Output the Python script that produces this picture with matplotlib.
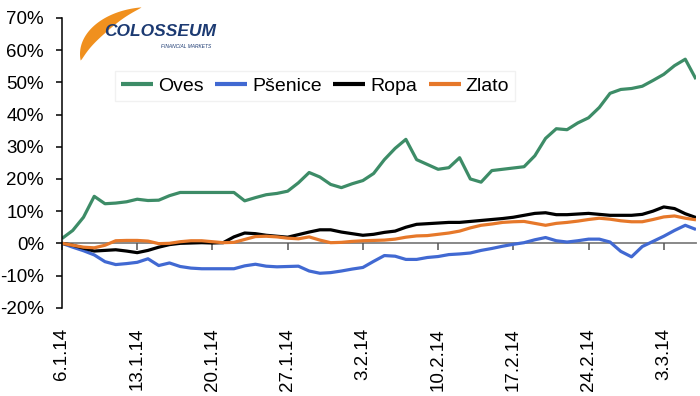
import numpy as np
import matplotlib
matplotlib.use("Agg")
import matplotlib.pyplot as plt
from matplotlib.patches import Polygon

plt.rcParams['font.family'] = ['Liberation Sans', 'DejaVu Sans']

# ---- data (percent change since 6.1.14, one value per calendar day) ----
days = np.arange(60)
tick_days = [0, 7, 14, 21, 28, 35, 42, 49, 56]
tick_labels = ['6.1.14', '13.1.14', '20.1.14', '27.1.14', '3.2.14',
               '10.2.14', '17.2.14', '24.2.14', '3.3.14']

oves = [1.5, 4.0, 8.1, 14.6, 12.3, 12.5, 12.9, 13.7, 13.3, 13.4,
        14.8, 15.8, 15.8, 15.8, 15.8, 15.8, 15.8, 13.2, 14.2, 15.1,
        15.5, 16.2, 18.8, 22.0, 20.6, 18.3, 17.3, 18.5, 19.5, 21.7,
        26.0, 29.5, 32.3, 26.0, 24.5, 23.0, 23.5, 26.6, 20.0, 19.0,
        22.6, 23.0, 23.4, 23.8, 27.2, 32.6, 35.6, 35.3, 37.4, 39.0,
        42.2, 46.6, 47.8, 48.1, 48.8, 50.6, 52.5, 55.2, 57.2, 51.0]

psenice = [0.0, -1.2, -2.3, -3.6, -5.7, -6.6, -6.3, -5.9, -4.8, -6.9,
           -6.1, -7.2, -7.7, -7.9, -7.9, -7.9, -7.9, -7.0, -6.5, -7.1,
           -7.3, -7.2, -7.1, -8.6, -9.3, -9.1, -8.6, -8.0, -7.5, -5.6,
           -3.8, -4.0, -5.0, -5.0, -4.4, -4.1, -3.5, -3.3, -3.0, -2.2,
           -1.6, -0.9, -0.3, 0.2, 1.1, 1.8, 0.8, 0.4, 0.8, 1.3,
           1.3, 0.4, -2.5, -4.2, -1.0, 0.6, 2.2, 4.0, 5.6, 4.3]

ropa = [0.0, -0.6, -1.5, -2.4, -2.2, -2.0, -2.4, -2.9, -2.2, -1.2,
        -0.4, 0.0, 0.1, 0.2, 0.1, 0.2, 2.0, 3.2, 3.0, 2.5,
        2.2, 1.9, 2.7, 3.5, 4.2, 4.2, 3.5, 3.0, 2.5, 2.8,
        3.4, 3.8, 5.0, 5.9, 6.1, 6.3, 6.5, 6.5, 6.8, 7.1,
        7.4, 7.7, 8.1, 8.7, 9.3, 9.5, 8.9, 8.9, 9.1, 9.3,
        9.0, 8.7, 8.7, 8.7, 9.0, 10.0, 11.3, 10.8, 9.2, 8.0]

zlato = [0.0, -0.6, -1.2, -1.4, -0.6, 0.8, 0.9, 0.9, 0.7, -0.1,
         0.0, 0.5, 0.8, 0.8, 0.5, 0.2, 0.3, 1.2, 2.1, 2.2,
         2.0, 1.6, 1.4, 2.0, 1.0, 0.2, 0.3, 0.6, 0.8, 0.9,
         1.0, 1.3, 1.9, 2.3, 2.4, 2.8, 3.2, 3.8, 4.8, 5.6,
         6.0, 6.5, 6.7, 6.8, 6.2, 5.6, 6.2, 6.5, 6.9, 7.4,
         7.8, 7.5, 7.0, 6.7, 6.7, 7.4, 8.2, 8.5, 7.8, 7.3]

series_names = ['Oves', 'Pšenice', 'Ropa', 'Zlato']
series_values = [oves, psenice, ropa, zlato]
series_colors = ['#3d8c67', '#4169d2', '#000000', '#e6782a']

# ---- figure ----
W, H = 700, 396
fig = plt.figure(figsize=(W / 100, H / 100), dpi=100)
fig.patch.set_facecolor('white')
ax = fig.add_axes([62 / W, 1 - 307.7 / H, (696 - 62) / W, (307.7 - 18) / H])

lines = []
for name, vals, col in zip(series_names, series_values, series_colors):
    ln, = ax.plot(days, vals, color=col, lw=2.3, label=name,
                  solid_joinstyle='round', solid_capstyle='butt')
    lines.append(ln)

ax.set_xlim(0, 59)
ax.set_ylim(-20, 70)
ax.set_yticks(np.arange(-20, 71, 10))
ax.set_yticklabels([f'{v}%' for v in range(-20, 71, 10)])

ax.spines['top'].set_visible(False)
ax.spines['right'].set_visible(False)
ax.spines['left'].set_color('black')
ax.spines['left'].set_linewidth(1.1)
ax.spines['bottom'].set_position(('data', 0))
ax.spines['bottom'].set_color('#7f7f7f')
ax.spines['bottom'].set_linewidth(1.3)
ax.spines['bottom'].set_zorder(0.5)

ax.set_xticks(tick_days)
ax.set_xticklabels(tick_labels, rotation=90, va='top', ha='center')
ax.tick_params(axis='x', direction='out', length=5, width=1.1, color='#555555',
               pad=56, labelsize=13.5)
ax.tick_params(axis='y', direction='out', length=4, width=1.1, color='black',
               pad=9, labelsize=13.5)

leg = ax.legend(handles=lines, loc='center', bbox_to_anchor=(315 / W, 1 - 86 / H),
                bbox_transform=fig.transFigure, ncol=4, frameon=True,
                fancybox=False, edgecolor='#eeeeee', fontsize=14,
                handlelength=1.65, handletextpad=0.25, columnspacing=0.6,
                borderpad=0.3)
leg.get_frame().set_linewidth(1.0)
for lh in leg.get_lines():
    lh.set_linewidth(3)

# ---- logo (decorative swoosh + text) ----
s = np.linspace(0, 1, 80)
theta = np.deg2rad(97 + s * (188 - 97))
cx, cy, rx, ry = 150, 54, 70, 47
ox = cx + rx * np.cos(theta)
oy = cy - ry * np.sin(theta)
k = 0.22 * np.sin(np.pi * s) ** 0.8
ix = cx + (ox - cx) * (1 - k)
iy = cy + (oy - cy) * (1 - k)
pts = np.vstack([np.c_[ox, oy], np.c_[ix, iy][::-1]])
pts_fig = np.c_[pts[:, 0] / W, 1 - pts[:, 1] / H]
fig.add_artist(Polygon(pts_fig, closed=True, transform=fig.transFigure,
                       facecolor='#f0901e', edgecolor='none'))
fig.text(160 / W, 1 - 31 / H, 'COLOSSEUM', ha='center', va='center',
         fontsize=12.5, fontweight='bold', style='italic', color='#1c3a72',
         family='Liberation Sans')
fig.text(186 / W, 1 - 46 / H, 'FINANCIAL MARKETS', ha='center', va='center',
         fontsize=3.5, style='italic', color='#1c3a72')

fig.savefig('out.png', dpi=100, facecolor='white')
